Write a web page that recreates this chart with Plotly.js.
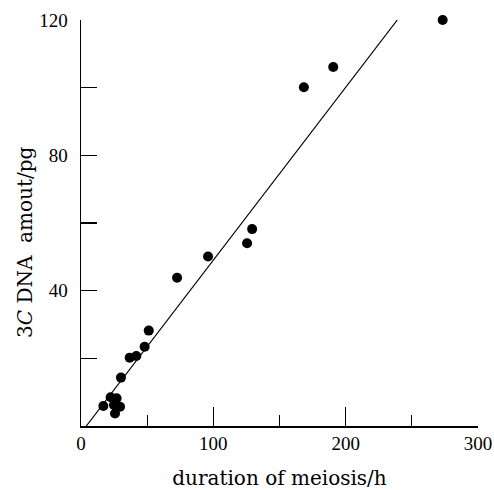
<!DOCTYPE html>
<html>
<head>
<meta charset="utf-8">
<script src="https://cdn.plot.ly/plotly-3.0.1.min.js"></script>
<style>html,body{margin:0;padding:0;background:#fff;}#chart{width:494px;height:490px;}</style>
</head>
<body>
<div id="chart"></div>
<script>
// duration of meiosis (h)
const durationH = [273.3, 190.6, 168.4, 129.3, 125.5, 96.0, 72.6, 51.2, 48.1, 41.8, 36.8, 30.2, 22.4, 26.9, 16.9, 24.9, 29.5, 25.7];
// 3C DNA amount (pg)
const dnaPg = [120.0, 106.1, 100.1, 58.2, 54.0, 50.1, 43.8, 28.2, 23.4, 20.7, 20.2, 14.3, 8.5, 8.2, 5.9, 6.2, 5.7, 3.7];
// regression line endpoints
const fitX = [4, 239];
const fitY = [0, 120];
// tick labels
const yTickVals = [0, 20, 40, 60, 80, 100, 120];
const yTickText = ['', '', '40', '', '80', '', '120'];
const xMinorVals = [50, 150, 250];

const serif = 'Liberation Serif, DejaVu Serif, serif';
const titleSerif = 'DejaVu Serif, Liberation Serif, serif';

const data = [
  {x: fitX, y: fitY, type: 'scatter', mode: 'lines', cliponaxis: false,
   line: {color: '#000', width: 1.2}, hoverinfo: 'skip', showlegend: false},
  {x: durationH, y: dnaPg, type: 'scatter', mode: 'markers', cliponaxis: false,
   marker: {color: '#000', size: 10}, showlegend: false}
];

const layout = {
  width: 494, height: 490,
  margin: {l: 81, r: 16, t: 20, b: 64},
  paper_bgcolor: '#fff', plot_bgcolor: '#fff',
  font: {family: serif, color: '#000', size: 19},
  xaxis: {
    range: [0, 300], showgrid: false, zeroline: false,
    showline: true, linecolor: '#000', linewidth: 1.5,
    ticks: 'inside', ticklen: 19, tickwidth: 1.3, tickcolor: '#000',
    tickmode: 'linear', tick0: 0, dtick: 100,
    tickfont: {family: serif, size: 19, color: '#000'},
    minor: {tickmode: 'array', tickvals: xMinorVals, ticks: 'inside', ticklen: 11, tickwidth: 1.3, tickcolor: '#000', showgrid: false},
    title: {text: 'duration of meiosis/h', font: {family: titleSerif, size: 20, color: '#000'}, standoff: 24}
  },
  yaxis: {
    range: [0, 120], showgrid: false, zeroline: false,
    showline: true, linecolor: '#000', linewidth: 1.5,
    ticks: 'inside', ticklen: 16, tickwidth: 1.3, tickcolor: '#000',
    tickmode: 'array', tickvals: yTickVals, ticktext: yTickText,
    tickfont: {family: serif, size: 19, color: '#000'},
    ticklabelstandoff: 8
  },
  annotations: [{
    text: '3<i>C</i> DNA\u00a0 amout/pg', textangle: -90,
    xref: 'paper', yref: 'paper', x: 0, y: 0.5, xanchor: 'center', yanchor: 'middle',
    xshift: -56, yshift: -20, showarrow: false,
    font: {family: titleSerif, size: 20, color: '#000'}
  }]
};

Plotly.newPlot('chart', data, layout, {displayModeBar: false, staticPlot: true});
</script>
</body>
</html>
